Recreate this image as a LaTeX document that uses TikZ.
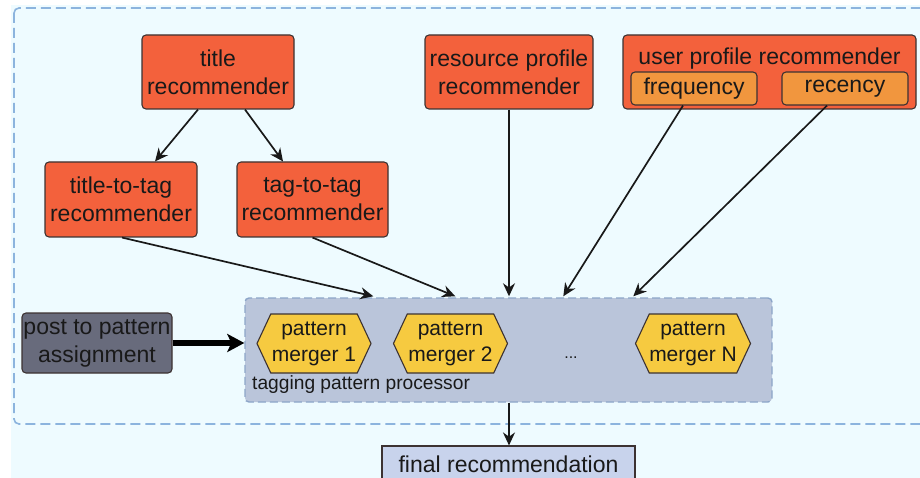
\documentclass[tikz,border=0pt]{standalone}
\usepackage{fontspec}
\setmainfont{Liberation Sans}
\usetikzlibrary{arrows.meta,shapes.symbols,calc}
\definecolor{bgc}{RGB}{238,251,255}
\definecolor{framec}{RGB}{140,180,222}
\definecolor{recc}{RGB}{243,97,60}
\definecolor{subc}{RGB}{241,150,62}
\definecolor{hexc}{RGB}{246,202,64}
\definecolor{postc}{RGB}{104,107,124}
\definecolor{procc}{RGB}{186,197,218}
\definecolor{procb}{RGB}{140,165,200}
\definecolor{finalc}{RGB}{200,211,236}
\definecolor{edgec}{RGB}{60,50,50}
\definecolor{txt}{RGB}{25,25,25}
\tikzset{
  base/.style={draw=edgec, line width=1.1pt, text=txt, align=center, inner sep=0pt,
    font=\fontsize{23}{28}\selectfont},
  recbox/.style={base, fill=recc, rounded corners=4pt},
  subbox/.style={base, fill=subc, rounded corners=4pt},
  postbox/.style={base, fill=postc, rounded corners=4pt},
  finalbox/.style={base, fill=finalc},
  procbox/.style={draw=procb, fill=procc, line width=1.4pt, dash pattern=on 8pt off 4pt,
    rounded corners=4pt, inner sep=0pt},
  merger/.style={shape=signal, signal to=west and east, signal pointer angle=130,
    draw=edgec, line width=1.1pt, fill=hexc, text=txt, align=center, inner sep=0pt,
    minimum width=114pt, minimum height=59pt, font=\fontsize{21}{26}\selectfont},
  arr/.style={draw=black!90, line width=1.7pt, -{Stealth[length=13pt,width=12pt]}},
  thickarr/.style={draw=black, line width=6pt, -{Stealth[length=17pt,width=18pt,inset=4pt]}},
  frame/.style={draw=framec, line width=1.6pt, dash pattern=on 10pt off 5pt, rounded corners=5pt}
}
\begin{document}
\begin{tikzpicture}[x=1pt,y=-1pt]
\useasboundingbox (0,0) rectangle (920,478);
\clip (0,0) rectangle (920,478);
\fill[bgc] (11,5) rectangle (920,478);
\path[frame] (14,8) rectangle (935,424);
% processor region
\node[procbox, minimum width=527pt, minimum height=104pt] (proc) at (508.5,350) {};
\node[anchor=west, text=txt, inner sep=0pt, font=\fontsize{19.2}{22}\selectfont] (proclabel) at (252,385) {tagging pattern processor};
% top row
\node[recbox, minimum width=152pt, minimum height=74pt] (title) at (218,72) {title\\recommender};
\node[recbox, minimum width=168pt, minimum height=74pt] (resource) at (509,72) {resource profile\\recommender};
\node[recbox, minimum width=293pt, minimum height=74pt] (user) at (769.5,72) {};
\node[text=txt, font=\fontsize{23}{28}\selectfont, inner sep=0pt] (userlabel) at (769.5,58.5) {user profile recommender};
\node[subbox, minimum width=126pt, minimum height=33pt] (freq) at (694,88.5) {frequency};
\node[subbox, minimum width=126pt, minimum height=33pt] (rec) at (845,88.5) {recency};
% second row
\node[recbox, minimum width=152pt, minimum height=75pt] (t2t) at (121,199.5) {title-to-tag\\recommender};
\node[recbox, minimum width=151pt, minimum height=75pt] (g2g) at (312.5,199.5) {tag-to-tag\\recommender};
% processor content
\node[postbox, minimum width=150pt, minimum height=60pt] (post) at (97,343) {post to pattern\\assignment};
\node[merger] (m1) at (314,343.5) {pattern\\merger 1};
\node[merger] (m2) at (450.5,343.5) {pattern\\merger 2};
\node[merger] (mN) at (693,343.5) {pattern\\merger N};
\node[text=txt, font=\fontsize{16}{18}\selectfont, inner sep=0pt] (dots) at (571,358) {...};
\node[finalbox, minimum width=253pt, minimum height=36pt] (final) at (508.5,464) {final recommendation};
% arrows
\draw[arr] ($(title.south)+(-20,0)$) -- ($(t2t.north)+(34,0)$);
\draw[arr] ($(title.south)+(27,0)$) -- ($(g2g.north)+(-29.5,0)$);
\draw[arr] ($(t2t.south)+(1,0)$) -- ($(proc.north west)+(129,-1)$);
\draw[arr] (g2g.south) -- ($(proc.north west)+(211,-1)$);
\draw[arr] (resource.south) -- ($(proc.north)+(0.5,-1)$);
\draw[arr] ($(freq.south)+(-11,0)$) -- ($(proc.north west)+(319,-1)$);
\draw[arr] ($(rec.south)+(-18,0)$) -- ($(proc.north west)+(389,-1)$);
\draw[thickarr] (post.east) -- (proc.west |- post.east);
\draw[arr] ($(proc.south)+(0.5,0)$) -- ($(final.north)+(0.5,0)$);
\end{tikzpicture}
\end{document}
